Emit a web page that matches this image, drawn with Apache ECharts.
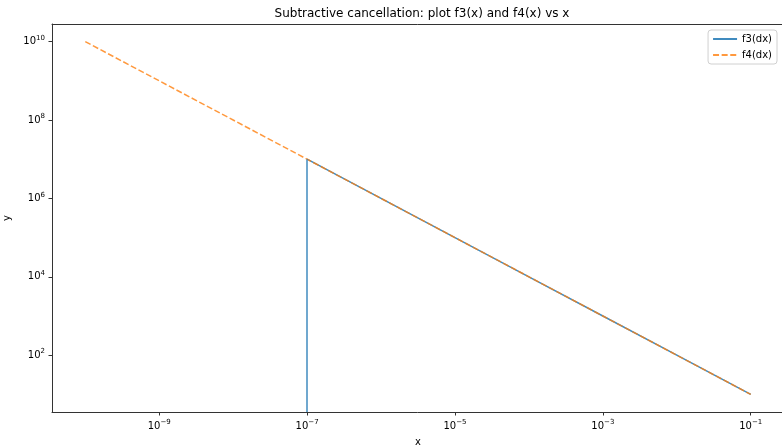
<!DOCTYPE html>
<html>
<head>
<meta charset="utf-8">
<script src="https://cdn.jsdelivr.net/npm/echarts@6/dist/echarts.min.js"></script>
<style>
html,body{margin:0;padding:0;background:#fff;}
#chart{width:782px;height:446px;}
</style>
</head>
<body>
<div id="chart"></div>
<script>
// ---- data ----
const dx = [1e-10, 1e-9, 1e-8, 1e-7, 1e-6, 1e-5, 1e-4, 1e-3, 1e-2, 1e-1];
const f3 = [0, 0, 0, 1e7, 1e6, 1e5, 1e4, 1e3, 1e2, 1e1];
const f4 = [1e10, 1e9, 1e8, 1e7, 1e6, 1e5, 1e4, 1e3, 1e2, 1e1];
const xTicks = [1e-9, 1e-7, 1e-5, 1e-3, 1e-1];
const yTicks = [1e2, 1e4, 1e6, 1e8, 1e10];
const seriesNames = ['f3(dx)', 'f4(dx)'];

const X_MIN = Math.pow(10, -10.45), X_MAX = Math.pow(10, -0.55);
const Y_MIN = Math.pow(10, 0.55), Y_MAX = Math.pow(10, 10.45);

// nonpositive values cannot be shown on a log axis: break the line there and,
// like matplotlib's clipping, drop the last positive point down out of the plot
const pairs = (ys) => dx.map((x, i) => [x, ys[i] > 0 ? ys[i] : null]);
const firstPos = f3.findIndex(v => v > 0);
const dropLine = firstPos > 0 ? [[
  { coord: [dx[firstPos], f3[firstPos]] },
  { coord: [dx[firstPos], Y_MIN] }
]] : [];

function supLabel(v) {
  const e = Math.round(Math.log10(v));
  const s = (e < 0 ? '\u2212' : '') + Math.abs(e);
  return '{b|10}{s|' + s + '}';
}
const richLab = {
  b: { fontSize: 10, fontFamily: 'DejaVu Sans', color: '#000', lineHeight: 14 },
  s: { fontSize: 7, fontFamily: 'DejaVu Sans', color: '#000', lineHeight: 8, verticalAlign: 'top' }
};
const axisCol = '#333';
const nameStyle = { fontFamily: 'DejaVu Sans', fontSize: 10, color: '#000' };

const chart = echarts.init(document.getElementById('chart'), null, { renderer: 'canvas' });
chart.setOption({
  animation: false,
  backgroundColor: '#fff',
  title: {
    text: 'Subtractive cancellation: plot f3(x) and f4(x) vs x',
    left: 417, top: 3, textAlign: 'center',
    textStyle: { fontFamily: 'DejaVu Sans', fontSize: 12, fontWeight: 'normal', color: '#000' }
  },
  legend: {
    data: seriesNames,
    orient: 'vertical', right: 5, top: 30,
    itemWidth: 24, itemHeight: 10, itemGap: 6,
    padding: [4, 5, 4, 4],
    borderColor: '#d0d0d0', borderWidth: 1, borderRadius: 3,
    backgroundColor: 'rgba(255,255,255,0.8)',
    itemStyle: { opacity: 0 },
    textStyle: { fontFamily: 'DejaVu Sans', fontSize: 10, color: '#000' }
  },
  grid: {
    left: 52, top: 24, bottom: 34, width: 732,
    outerBoundsMode: 'none', containLabel: false, show: false
  },
  xAxis: [{
    type: 'log', logBase: 10, min: X_MIN, max: X_MAX, position: 'bottom',
    name: 'x', nameLocation: 'middle', nameGap: 25, nameTextStyle: nameStyle,
    axisLine: { show: true, lineStyle: { color: axisCol, width: 1 } },
    axisTick: { show: true, length: 3.5, customValues: xTicks, lineStyle: { color: axisCol } },
    minorTick: { show: false },
    axisLabel: { customValues: xTicks, margin: 7, formatter: supLabel, rich: richLab },
    splitLine: { show: false }
  }, {
    type: 'log', logBase: 10, min: X_MIN, max: X_MAX, position: 'top',
    axisLine: { show: true, onZero: false, lineStyle: { color: axisCol, width: 1 } },
    axisTick: { show: false }, axisLabel: { show: false },
    minorTick: { show: false }, splitLine: { show: false }
  }],
  yAxis: {
    type: 'log', logBase: 10, min: Y_MIN, max: Y_MAX,
    name: 'y', nameLocation: 'middle', nameGap: 37, nameTextStyle: nameStyle,
    axisLine: { show: true, lineStyle: { color: axisCol, width: 1 } },
    axisTick: { show: true, length: 3.5, customValues: yTicks, lineStyle: { color: axisCol } },
    minorTick: { show: false },
    axisLabel: { customValues: yTicks, margin: 7, formatter: supLabel, rich: richLab },
    splitLine: { show: false }
  },
  series: [
    {
      name: seriesNames[0], type: 'line', data: pairs(f3),
      showSymbol: false, symbol: 'none', clip: true, connectNulls: false,
      itemStyle: { color: '#1f77b4' },
      lineStyle: { color: '#1f77b4', width: 1.5, opacity: 0.85 },
      markLine: {
        silent: true, symbol: ['none', 'none'], animation: false,
        label: { show: false }, emphasis: { disabled: true },
        lineStyle: { color: '#1f77b4', width: 1.5, type: 'solid', opacity: 0.85 },
        data: dropLine
      }
    },
    {
      name: seriesNames[1], type: 'line', data: pairs(f4),
      showSymbol: false, symbol: 'none', clip: true,
      itemStyle: { color: '#ff7f0e' },
      lineStyle: { color: '#ff7f0e', width: 1.5, type: [6, 2.6], opacity: 0.8 }
    }
  ]
});
</script>
</body>
</html>
